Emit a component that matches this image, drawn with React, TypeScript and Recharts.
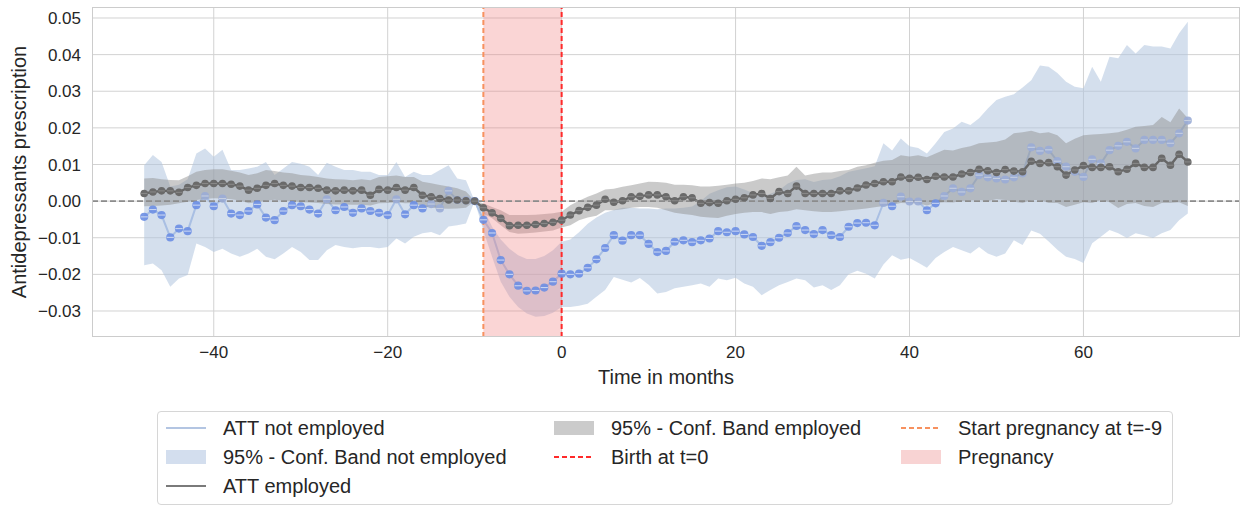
import React from "react";
import {
  ComposedChart,
  Area,
  Line,
  XAxis,
  YAxis,
  CartesianGrid,
  ReferenceLine,
  ReferenceArea,
} from "recharts";

// months relative to birth
const months = Array.from({ length: 121 }, (_, i) => i - 48);

// -48 .. 72
const attNotEmployed = [
  -0.0043, -0.0023, -0.0038, -0.0099, -0.0075, -0.0082, -0.0011, 0.0014, -0.0014, 0.0007,
  -0.0034, -0.0038, -0.0027, -0.0009, -0.0045, -0.0052, -0.0027, -0.0011, -0.0014, -0.0023,
  -0.0034, 0.0005, -0.0025, -0.0016, -0.0032, -0.002, -0.0027, -0.0032, -0.0038, 0.0005,
  -0.0036, -0.0011, -0.002, -0.0008, -0.002, 0.0028, 0.0003, 0.0002, 0.0, -0.0051,
  -0.0087, -0.0161, -0.02, -0.0231, -0.0245, -0.0244, -0.0236, -0.022, -0.0198, -0.02,
  -0.0198, -0.0182, -0.0159, -0.0128, -0.0093, -0.0108, -0.0093, -0.0093, -0.0117, -0.0139,
  -0.0136, -0.0111, -0.0107, -0.0112, -0.0107, -0.0102, -0.0082, -0.0085, -0.0082, -0.0091,
  -0.0098, -0.0122, -0.0112, -0.01, -0.0087, -0.0068, -0.0079, -0.009, -0.0079, -0.0093,
  -0.0098, -0.007, -0.006, -0.0059, -0.0066, -0.0005, -0.0014, 0.0012, -0.0001, -0.0001,
  -0.0025, -0.0006, 0.0014, 0.0035, 0.0025, 0.0035, 0.0071, 0.0065, 0.0062, 0.0059,
  0.0065, 0.0076, 0.0147, 0.0137, 0.014, 0.0109, 0.0094, 0.008, 0.0066, 0.0114,
  0.0103, 0.0139, 0.0151, 0.0162, 0.0144, 0.0167, 0.0167, 0.0167, 0.0158, 0.0185,
  0.022,
];

const notEmployedHigh = [
  0.0098, 0.0126, 0.0107, 0.004, 0.0045, 0.006, 0.013, 0.0144, 0.0121, 0.014,
  0.0085, 0.0085, 0.0089, 0.0094, 0.0107, 0.0071, 0.0089, 0.0107, 0.0102, 0.0094,
  0.0071, 0.0105, 0.0094, 0.0085, 0.0085, 0.008, 0.008, 0.0071, 0.0071, 0.0107,
  0.0066, 0.008, 0.0071, 0.0071, 0.0085, 0.0098, 0.0062, 0.0057, 0.0, -0.002,
  -0.007, -0.0105, -0.013, -0.0148, -0.0158, -0.0158, -0.015, -0.0134, -0.0111, -0.0105,
  -0.0085, -0.0062, -0.0045, -0.0032, -0.0024, -0.0018, -0.0018, -0.002, -0.002, -0.0022,
  -0.002, -0.002, -0.0018, -0.0015, 0.0, 0.002, 0.003, 0.0038, 0.004, 0.0032,
  0.0022, 0.0012, 0.002, 0.003, 0.0048, 0.0058, 0.006, 0.0052, 0.0058, 0.006,
  0.0068, 0.008, 0.0085, 0.009, 0.0095, 0.0158, 0.0138, 0.0171, 0.015, 0.0145,
  0.013, 0.0158, 0.0189, 0.0198, 0.0217, 0.0208, 0.0226, 0.0253, 0.0276, 0.0285,
  0.0292, 0.031, 0.033, 0.037, 0.0367, 0.035, 0.0326, 0.0312, 0.0308, 0.0367,
  0.0326, 0.0394, 0.039, 0.0426, 0.0403, 0.0426, 0.0422, 0.0422, 0.0417, 0.0458,
  0.049,
];

const notEmployedLow = [
  -0.0175, -0.017, -0.0189, -0.0234, -0.0211, -0.0202, -0.0116, -0.0125, -0.0139, -0.013,
  -0.0143, -0.0152, -0.0143, -0.013, -0.0152, -0.0159, -0.0143, -0.0125, -0.0139, -0.0161,
  -0.0161, -0.0134, -0.012, -0.0125, -0.0129, -0.0125, -0.0125, -0.0129, -0.0125, -0.0102,
  -0.0116, -0.0097, -0.0088, -0.0084, -0.0093, -0.0069, -0.0066, -0.0061, 0.0, -0.008,
  -0.0152, -0.022, -0.0261, -0.0289, -0.0307, -0.0316, -0.0314, -0.0305, -0.0289, -0.0289,
  -0.0286, -0.028, -0.0261, -0.0243, -0.0207, -0.0215, -0.0222, -0.021, -0.0228, -0.0252,
  -0.0248, -0.0238, -0.0234, -0.023, -0.0225, -0.0234, -0.0211, -0.0216, -0.0209, -0.0225,
  -0.0234, -0.0257, -0.0243, -0.023, -0.0221, -0.0211, -0.0216, -0.0236, -0.023, -0.0243,
  -0.023, -0.02, -0.019, -0.0198, -0.0211, -0.0173, -0.0148, -0.016, -0.0155, -0.0168,
  -0.0182, -0.0155, -0.0139, -0.0125, -0.0134, -0.0143, -0.0125, -0.0143, -0.0152, -0.0143,
  -0.0107, -0.012, -0.008, -0.0089, -0.011, -0.0133, -0.0152, -0.0158, -0.0169, -0.0115,
  -0.0097, -0.0079, -0.0088, -0.0101, -0.0088, -0.0093, -0.0101, -0.0088, -0.0079, -0.0052,
  -0.0034,
];

const attEmployed = [
  0.0021, 0.0025, 0.0028, 0.0028, 0.0024, 0.0037, 0.0043, 0.0048, 0.0048, 0.0048,
  0.0046, 0.0041, 0.003, 0.0035, 0.0043, 0.0048, 0.0043, 0.0041, 0.0037, 0.0037,
  0.0035, 0.003, 0.0028, 0.003, 0.0028, 0.003, 0.0016, 0.0032, 0.003, 0.0037,
  0.003, 0.0037, 0.0016, 0.0012, 0.0007, 0.0003, 0.0003, 0.0001, 0.0, -0.0018,
  -0.0032, -0.0047, -0.0067, -0.0066, -0.0066, -0.0064, -0.0061, -0.0058, -0.0052, -0.0038,
  -0.0026, -0.0017, -0.0011, 0.0005, -0.0003, 0.0001, 0.0012, 0.0013, 0.0017, 0.0017,
  0.0012, 0.0001, 0.0012, 0.0009, -0.0006, -0.0004, -0.0006, 0.0001, 0.0005, 0.0009,
  0.0017, 0.0021, 0.0007, 0.0026, 0.0021, 0.0041, 0.0021, 0.0021, 0.0021, 0.0021,
  0.0028, 0.0028, 0.0036, 0.0044, 0.0048, 0.0053, 0.0053, 0.0066, 0.0062, 0.0065,
  0.0059, 0.0068, 0.0066, 0.0066, 0.0074, 0.0078, 0.0087, 0.0083, 0.0078, 0.0086,
  0.0082, 0.008, 0.0109, 0.0103, 0.0105, 0.0094, 0.0071, 0.0085, 0.0097, 0.0092,
  0.0092, 0.0094, 0.008, 0.0087, 0.0103, 0.0092, 0.0092, 0.0117, 0.0098, 0.0128,
  0.0107,
];

const employedHigh = [
  0.0062, 0.0063, 0.006, 0.0058, 0.0057, 0.0068, 0.008, 0.0085, 0.0087, 0.0087,
  0.0083, 0.0078, 0.0071, 0.0076, 0.0085, 0.0082, 0.0078, 0.0076, 0.0071, 0.0069,
  0.0066, 0.0062, 0.006, 0.0059, 0.0057, 0.006, 0.0057, 0.0066, 0.0068, 0.007,
  0.0066, 0.0066, 0.0053, 0.0049, 0.0044, 0.004, 0.0035, 0.0026, 0.0, -0.0006,
  -0.0016, -0.0025, -0.0038, -0.0038, -0.0038, -0.0037, -0.0035, -0.0033, -0.0029, -0.0011,
  0.0001, 0.0012, 0.0021, 0.0032, 0.0034, 0.0039, 0.0043, 0.0048, 0.0053, 0.0052,
  0.005, 0.0045, 0.0045, 0.0043, 0.004, 0.004, 0.0042, 0.0045, 0.0048, 0.005,
  0.0055, 0.0062, 0.006, 0.0065, 0.007, 0.0094, 0.007, 0.0075, 0.0078, 0.0078,
  0.0082, 0.0085, 0.0094, 0.0098, 0.0105, 0.011, 0.0112, 0.0125, 0.0122, 0.0125,
  0.012, 0.013, 0.014, 0.0138, 0.0145, 0.015, 0.0158, 0.016, 0.0162, 0.0168,
  0.0185, 0.0188, 0.0192, 0.0185, 0.0188, 0.018, 0.0158, 0.017, 0.018, 0.0182,
  0.0183, 0.0185, 0.0188, 0.0195, 0.0203, 0.0205, 0.0208, 0.023, 0.0215, 0.0253,
  0.0226,
];

const employedLow = [
  -0.0014, -0.0013, -0.0012, -0.001, -0.0006, -0.0002, 0.0003, 0.0006, 0.0008, 0.0007,
  0.0005, 0.0002, -0.0006, -0.0003, 0.0001, 0.0004, 0.0001, 0.0, -0.0003, -0.0004,
  -0.0005, -0.0008, -0.0009, -0.0009, -0.001, -0.001, -0.0012, -0.0006, -0.0005, -0.0003,
  -0.0006, -0.0005, -0.0014, -0.0018, -0.002, -0.0021, -0.002, -0.0018, 0.0, -0.0034,
  -0.0047, -0.0066, -0.0084, -0.0089, -0.0088, -0.0086, -0.0083, -0.008, -0.0072, -0.0066,
  -0.0052, -0.0045, -0.004, -0.0025, -0.0025, -0.0022, -0.0018, -0.0016, -0.0016, -0.0018,
  -0.0025, -0.0032, -0.0035, -0.0038, -0.0043, -0.0045, -0.0046, -0.004, -0.0035, -0.0032,
  -0.003, -0.003, -0.0035, -0.003, -0.0028, -0.0022, -0.0025, -0.0028, -0.003, -0.003,
  -0.0028, -0.0025, -0.0023, -0.002, -0.0017, -0.0013, -0.001, -0.0005, -0.0006, -0.0006,
  -0.0012, -0.0005, -0.0003, -0.0004, 0.0, 0.0002, 0.0003, 0.0, 0.0005, 0.0003,
  -0.0002, -0.0005, 0.0003, 0.0003, -0.0005, -0.0005, -0.0016, -0.001, -0.0003, -0.0005,
  0.0003, -0.0003, -0.0019, -0.0008, -0.0005, -0.0013, -0.0016, -0.0005, -0.0005, -0.0003,
  -0.0013,
];

const xTicks = [-40, -20, 0, 20, 40, 60];
const yTicks = [-0.03, -0.02, -0.01, 0, 0.01, 0.02, 0.03, 0.04, 0.05];
const pregnancyStart = -9;
const birth = 0;

const data = months.map((t, i) => ({
  t,
  ne: attNotEmployed[i],
  neBand: [notEmployedLow[i], notEmployedHigh[i]],
  e: attEmployed[i],
  eBand: [employedLow[i], employedHigh[i]],
}));

const FONT = '"Liberation Sans", Arial, sans-serif';
const TEXT = "#262626";

const fmtX = (v: number) => (v < 0 ? `\u2212${Math.abs(v)}` : `${v}`);
const fmtY = (v: number) => (v < 0 ? "\u2212" : "") + Math.abs(v).toFixed(2);

// blue markers look washed out where the employed band is painted over them
function BlueDot(props: any) {
  const { cx, cy, payload } = props;
  if (cx == null || cy == null) return null;
  const covered =
    payload && payload.t !== -10 && payload.ne >= payload.eBand[0] && payload.ne <= payload.eBand[1];
  return (
    <g>
      <circle cx={cx} cy={cy} r={4.1} fill={covered ? "#9aacd6" : "#6b8ee3"} fillOpacity={0.9} />
      <line
        x1={cx - 3.6}
        x2={cx + 3.6}
        y1={cy}
        y2={cy}
        stroke={covered ? "#c6cfe0" : "#c8d5f2"}
        strokeWidth={1.1}
      />
    </g>
  );
}

function GrayDot(props: any) {
  const { cx, cy } = props;
  if (cx == null || cy == null) return null;
  return (
    <g>
      <circle cx={cx} cy={cy} r={3.8} fill="#6a6a6a" />
      <line x1={cx - 3.2} x2={cx + 3.2} y1={cy} y2={cy} stroke="#8a8a8a" strokeWidth={1} />
    </g>
  );
}

type LegendItem = { label: string; kind: "line" | "dash" | "patch"; color: string; col: number; row: number };

const legendItems: LegendItem[] = [
  { label: "ATT not employed", kind: "line", color: "#b3c5e2", col: 0, row: 0 },
  { label: "95% - Conf. Band not employed", kind: "patch", color: "#d3deee", col: 0, row: 1 },
  { label: "ATT employed", kind: "line", color: "#7a7a7a", col: 0, row: 2 },
  { label: "95% - Conf. Band employed", kind: "patch", color: "#cbcbcb", col: 1, row: 0 },
  { label: "Birth at t=0", kind: "dash", color: "#ff2a2a", col: 1, row: 1 },
  { label: "Start pregnancy at t=-9", kind: "dash", color: "#f7915f", col: 2, row: 0 },
  { label: "Pregnancy", kind: "patch", color: "#f8d3d3", col: 2, row: 1 },
];

const legendCols = [8, 396, 743];

function Handle({ item }: { item: LegendItem }) {
  return (
    <svg width={40} height={16} style={{ display: "block" }}>
      {item.kind === "patch" && <rect x={0} y={1} width={40} height={14} fill={item.color} />}
      {item.kind === "line" && <line x1={0} x2={40} y1={8} y2={8} stroke={item.color} strokeWidth={2} />}
      {item.kind === "dash" && (
        <line x1={0} x2={40} y1={8} y2={8} stroke={item.color} strokeWidth={2} strokeDasharray="5 3" />
      )}
    </svg>
  );
}

export default function App() {
  return (
    <div style={{ position: "absolute", left: 0, top: 0, width: 1245, height: 507, background: "#fff", fontFamily: FONT }}>
      <ComposedChart
        width={1245}
        height={400}
        data={data}
        margin={{ top: 7, right: 5, left: 0, bottom: 0 }}
      >
        <CartesianGrid stroke="#d2d2d2" strokeWidth={1} horizontalValues={yTicks} verticalValues={xTicks} />
        <XAxis
          dataKey="t"
          type="number"
          domain={[-54, 78]}
          ticks={xTicks}
          allowDataOverflow
          tickFormatter={fmtX}
          tickLine={false}
          axisLine={false}
          tickSize={6}
          tickMargin={3}
          height={63}
          tick={{ fontSize: 17, fill: TEXT, fontFamily: FONT }}
        />
        <YAxis
          type="number"
          domain={[-0.0371, 0.053]}
          ticks={yTicks}
          allowDataOverflow
          tickFormatter={fmtY}
          tickLine={false}
          axisLine={false}
          tickSize={7}
          tickMargin={4}
          width={92}
          tick={{ fontSize: 17, fill: TEXT, fontFamily: FONT }}
        />
        <Area
          dataKey="neBand"
          stroke="none"
          fill="#b0c4de"
          fillOpacity={0.55}
          isAnimationActive={false}
          activeDot={false}
        />
        <Area
          dataKey="ne"
          type="linear"
          fill="none"
          stroke="#a9bfe3"
          strokeWidth={2}
          dot={(p: any) => <BlueDot key={`b${p.index}`} {...p} />}
          activeDot={false}
          isAnimationActive={false}
        />
        <Area
          dataKey="eBand"
          stroke="none"
          fill="#8f8f8f"
          fillOpacity={0.47}
          isAnimationActive={false}
          activeDot={false}
        />
        <Line
          dataKey="e"
          stroke="#666666"
          strokeWidth={2.4}
          dot={(p: any) => <GrayDot key={`g${p.index}`} {...p} />}
          activeDot={false}
          isAnimationActive={false}
        />
        <ReferenceLine y={0} stroke="#8c8c8c" strokeWidth={1.6} strokeDasharray="6 3" />
        <ReferenceArea
          x1={pregnancyStart}
          x2={birth}
          fill="#f08080"
          fillOpacity={0.33}
          stroke="none"
          ifOverflow="visible"
        />
        <ReferenceLine x={pregnancyStart} stroke="#f7915f" strokeWidth={2} strokeDasharray="5 3" />
        <ReferenceLine x={birth} stroke="#ff2a2a" strokeWidth={2} strokeDasharray="5 3" />
      </ComposedChart>

      {/* plot frame */}
      <div
        style={{
          position: "absolute",
          left: 92,
          top: 7,
          width: 1148,
          height: 330,
          border: "1px solid #cccccc",
          boxSizing: "border-box",
          pointerEvents: "none",
        }}
      />

      <svg width={1245} height={507} style={{ position: "absolute", left: 0, top: 0, pointerEvents: "none" }}>
        <text
          x={666}
          y={377}
          textAnchor="middle"
          dominantBaseline="central"
          fontSize={20}
          fill={TEXT}
          fontFamily={FONT}
        >
          Time in months
        </text>
        <text
          x={19}
          y={172}
          textAnchor="middle"
          dominantBaseline="central"
          fontSize={20}
          fill={TEXT}
          fontFamily={FONT}
          transform="rotate(-90 19 172)"
        >
          Antidepressants prescription
        </text>
      </svg>

      <div
        style={{
          position: "absolute",
          left: 157,
          top: 411,
          width: 1016,
          height: 94,
          border: "1px solid #d6d6d6",
          borderRadius: 4,
          boxSizing: "border-box",
          background: "#fff",
        }}
      >
        {legendItems.map((item) => (
          <div
            key={item.label}
            style={{
              position: "absolute",
              left: legendCols[item.col],
              top: 16 + item.row * 29 - 12,
              height: 24,
              display: "flex",
              alignItems: "center",
              whiteSpace: "nowrap",
            }}
          >
            <Handle item={item} />
            <span style={{ marginLeft: 17, fontSize: 20, color: TEXT, lineHeight: "24px" }}>{item.label}</span>
          </div>
        ))}
      </div>
    </div>
  );
}
